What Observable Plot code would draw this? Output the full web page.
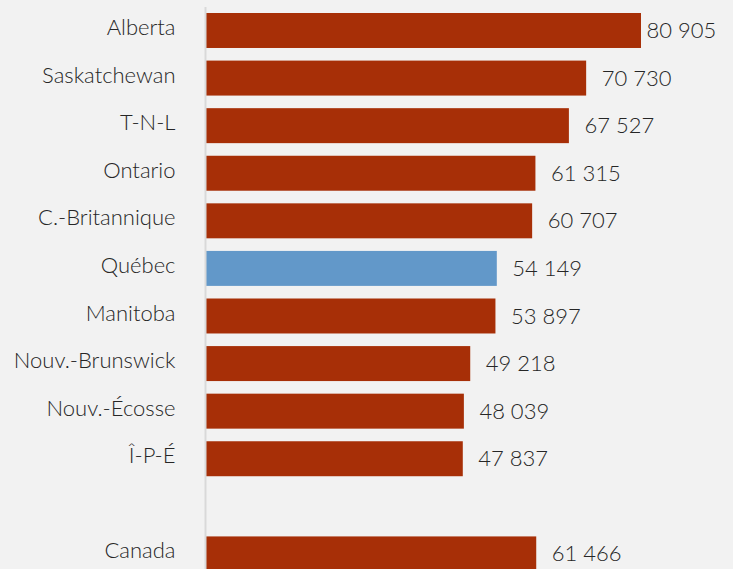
<!DOCTYPE html>
<html><head><meta charset="utf-8">
<script src="https://cdn.jsdelivr.net/npm/d3@7"></script>
<script src="https://cdn.jsdelivr.net/npm/@observablehq/plot@0.6"></script>
<style>
html,body{margin:0;padding:0;background:#f2f2f2;overflow:hidden;}
</style></head>
<body><div id="chart"></div>
<script>
const provinces = ["Alberta","Saskatchewan","T-N-L","Ontario","C.-Britannique","Québec","Manitoba","Nouv.-Brunswick","Nouv.-Écosse","Î-P-É","Canada"];
const values = [80905,70730,67527,61315,60707,54149,53897,49218,48039,47837,61466];
const highlight = "Québec";
const yDomain = [...provinces.slice(0,10), "", "Canada"];

const data = provinces.map((p,i)=>({name:p, value:values[i]}));
const maxV = d3.max(values);
const fmt = d => d3.format(",")(d).replace(/,/g, " ");

const textStyle = {fill: "#262626", fontSize: 22, fontWeight: 300};

const chart = Plot.plot({
  width: 733,
  height: 569,
  marginLeft: 205,
  marginRight: 43,
  marginTop: 7,
  marginBottom: 0,
  style: {background: "#f2f2f2", fontFamily: "Lato, sans-serif", fontSize: "22px", overflow: "hidden"},
  x: {domain: [0, 90000], axis: null},
  y: {domain: yDomain, range: [0.4, 584], padding: 0.265, round: false, axis: null},
  marks: [
    Plot.barX(data, {y: "name", x: "value", fill: d => d.name === highlight ? "#6298c9" : "#a72f07"}),
    Plot.ruleX([0], {stroke: "#d9d9d9", strokeWidth: 2}),
    Plot.text(data, {y: "name", text: "name", frameAnchor: "left", dx: -30, dy: -3, textAnchor: "end", ...textStyle}),
    Plot.text(data.filter(d => d.value !== maxV), {y: "name", x: "value", text: d => fmt(d.value), dx: 15, textAnchor: "start", ...textStyle}),
    Plot.text(data.filter(d => d.value === maxV), {y: "name", x: "value", text: d => fmt(d.value), dx: 5, textAnchor: "start", ...textStyle})
  ]
});
document.getElementById("chart").appendChild(chart);
</script></body></html>
